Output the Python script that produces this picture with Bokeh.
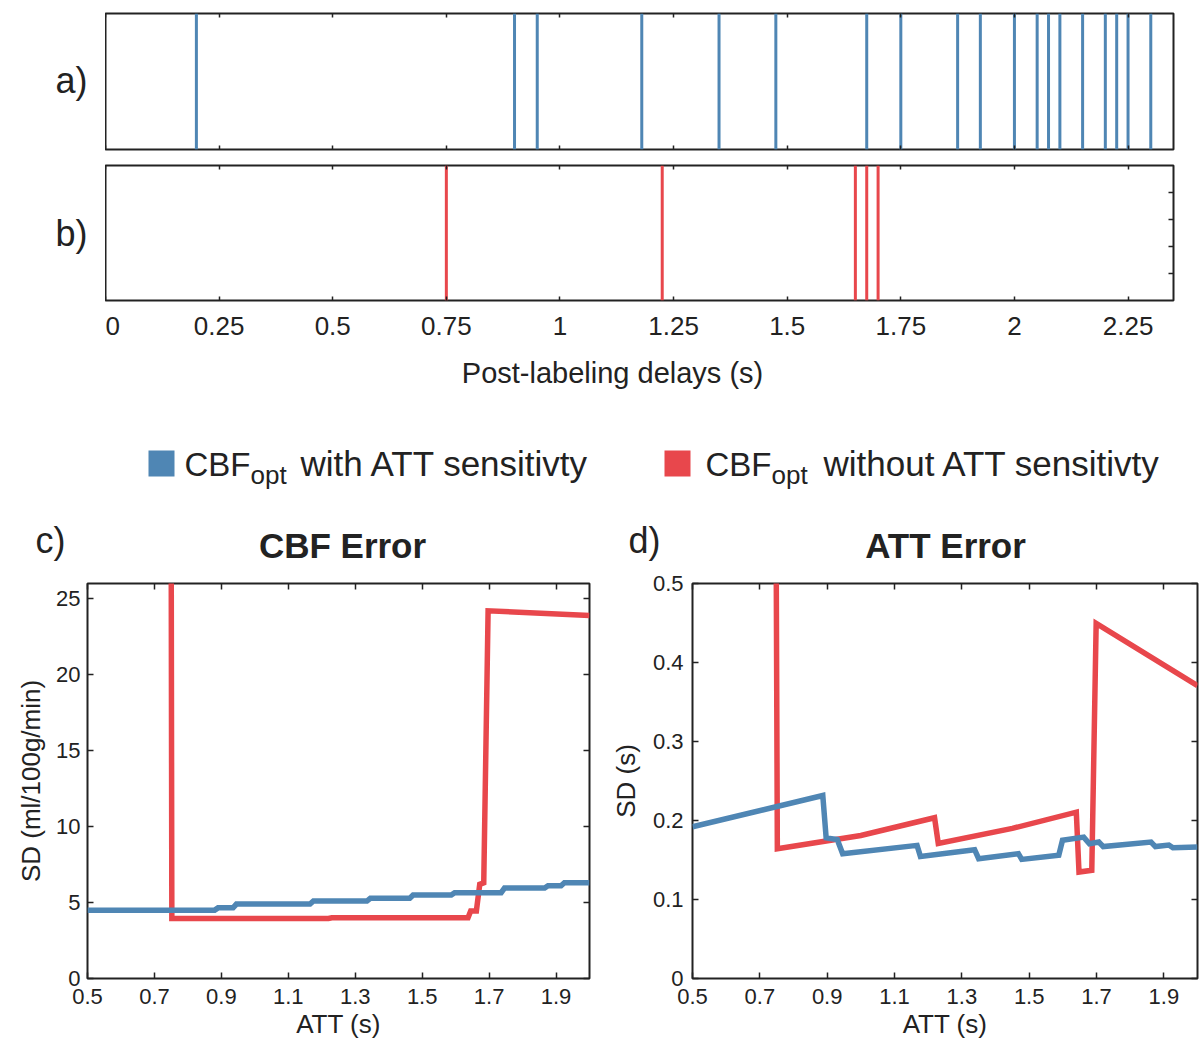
from bokeh.plotting import figure
from bokeh.models import Range1d, FixedTicker, LinearAxis
from bokeh.layouts import column, row
from bokeh.embed import file_html
from bokeh.resources import INLINE
from bokeh.core.properties import value

# ---------------- data ----------------
# post-labeling delays (s)
pld_with_att = [0.2, 0.9, 0.95, 1.18, 1.35, 1.475, 1.675, 1.75, 1.875, 1.925,
                2.0, 2.05, 2.075, 2.1, 2.15, 2.2, 2.225, 2.25, 2.3]
pld_without_att = [0.75, 1.225, 1.65, 1.675, 1.7]
pld_ticks = [0, 0.25, 0.5, 0.75, 1, 1.25, 1.5, 1.75, 2, 2.25]
pld_tick_labels = ["0", "0.25", "0.5", "0.75", "1", "1.25", "1.5", "1.75", "2", "2.25"]
pld_right_ticks = [0.2, 0.4, 0.6, 0.8]

att_ticks = [0.5, 0.7, 0.9, 1.1, 1.3, 1.5, 1.7, 1.9]
att_tick_labels = ["0.5", "0.7", "0.9", "1.1", "1.3", "1.5", "1.7", "1.9"]

# c) CBF error SD (ml/100g/min)
cbf_blue_att = [0.5, 0.88, 0.89, 0.935, 0.945, 1.165, 1.175, 1.335, 1.345, 1.463, 1.473,
                1.587, 1.597, 1.736, 1.746, 1.866, 1.876, 1.915, 1.925, 2.0]
cbf_blue_sd = [4.5, 4.5, 4.65, 4.65, 4.9, 4.9, 5.1, 5.1, 5.28, 5.28, 5.5,
               5.5, 5.65, 5.65, 5.95, 5.95, 6.1, 6.1, 6.3, 6.3]
cbf_red_att = [0.75, 0.752, 1.22, 1.23, 1.637, 1.645, 1.662, 1.672, 1.684, 1.697, 2.0]
cbf_red_sd = [30, 3.95, 3.95, 4.0, 4.0, 4.45, 4.45, 6.2, 6.3, 24.2, 23.9]
cbf_ticks = [0, 5, 10, 15, 20, 25]
cbf_tick_labels = ["0", "5", "10", "15", "20", "25"]

# d) ATT error SD (s)
att_blue_att = [0.5, 0.887, 0.897, 0.93, 0.946, 1.167, 1.177, 1.338, 1.35, 1.468, 1.478,
                1.588, 1.599, 1.662, 1.679, 1.707, 1.72, 1.862, 1.875, 1.915, 1.927, 2.0]
att_blue_sd = [0.192, 0.2317, 0.178, 0.176, 0.158, 0.1685, 0.1546, 0.163, 0.1516, 0.158, 0.1508,
               0.156, 0.175, 0.179, 0.1706, 0.1727, 0.167, 0.1727, 0.167, 0.169, 0.1655, 0.1664]
att_red_att = [0.748, 0.752, 1.0, 1.219, 1.23, 1.45, 1.64, 1.648, 1.686, 1.699, 2.0]
att_red_sd = [0.6, 0.1643, 0.181, 0.2035, 0.171, 0.19, 0.2106, 0.1348, 0.137, 0.4495, 0.3707]
sd_ticks = [0, 0.1, 0.2, 0.3, 0.4, 0.5]
sd_tick_labels = ["0", "0.1", "0.2", "0.3", "0.4", "0.5"]

legend_labels = ["with ATT sensitivty", "without ATT sensitivty"]

# ---------------- style ----------------
FONT = "Liberation Sans"
BLUE = "#4F86B4"
RED = "#E8474C"
INK = "#222222"


def canvas(w, h):
    p = figure(width=w, height=h, x_range=Range1d(0, w), y_range=Range1d(h, 0),
               output_backend="svg", toolbar_location=None,
               x_axis_location=None, y_axis_location=None, min_border=0,
               outline_line_color=None)
    p.grid.visible = False
    return p


def txt(p, x, y, s, size, align="left", bold=False):
    # y is the visual middle of the text line
    p.text(x=[x], y=[y], text=[s], text_font=value(FONT), text_font_size=size,
           text_color=INK, text_align=align, text_baseline="middle",
           text_font_style="bold" if bold else "normal")


def axis(p, side, ticks, labels=None, tick_len=5, font="22px", standoff=4):
    ax = LinearAxis(ticker=FixedTicker(ticks=ticks))
    ax.major_tick_in = tick_len
    ax.major_tick_out = 0
    ax.minor_tick_line_color = None
    ax.major_tick_line_color = INK
    ax.major_tick_line_width = 1.5
    ax.axis_line_color = None
    if labels is None:
        ax.major_label_overrides = {t: "" for t in ticks}
        ax.major_label_text_font_size = "1px"
        ax.major_label_standoff = 0
    else:
        ax.major_label_overrides = {t: l for t, l in zip(ticks, labels)}
        ax.major_label_text_font_size = font
        ax.major_label_text_font = FONT
        ax.major_label_text_color = INK
        ax.major_label_standoff = standoff
    p.add_layout(ax, side)
    return ax


def panel(w, h, xr, yr, bl, br, bt, bb):
    p = figure(width=w, height=h, x_range=Range1d(*xr), y_range=Range1d(*yr),
               output_backend="svg", toolbar_location=None,
               x_axis_location=None, y_axis_location=None,
               min_border_left=bl, min_border_right=br,
               min_border_top=bt, min_border_bottom=bb,
               outline_line_color=INK, outline_line_width=2)
    p.grid.visible = False
    return p


# ---------------- a) and b) ----------------
lab_ab = canvas(105, 350)
txt(lab_ab, 55, 80, "a)", "36px")
txt(lab_ab, 55, 233, "b)", "36px")

pa = panel(1095, 157, (0, 2.35), (0, 1), 0, 27, 13, 8)
axis(pa, "below", pld_ticks, tick_len=4)
axis(pa, "above", pld_ticks, tick_len=4)
pa.segment(x0=pld_with_att, y0=0, x1=pld_with_att, y1=1, line_color=BLUE, line_width=3)

pb = panel(1095, 193, (0, 2.35), (0, 1), 0, 27, 8, 50)
axis(pb, "below", pld_ticks, pld_tick_labels, tick_len=4, font="26px", standoff=16)
axis(pb, "above", pld_ticks, tick_len=4)
axis(pb, "right", pld_right_ticks, tick_len=5)
pb.segment(x0=pld_without_att, y0=0, x1=pld_without_att, y1=1, line_color=RED, line_width=3)

top = row(lab_ab, column(pa, pb))

# ---------------- axis label, legend, titles ----------------
hdr = canvas(1200, 217)
txt(hdr, 612, 22, "Post-labeling delays (s)", "29px", align="center")
hdr.scatter(x=[161, 677], y=[113, 113], marker="square", size=26,
            fill_color=[BLUE, RED], line_color=None)
txt(hdr, 184, 114, "CBF", "33px")
txt(hdr, 250, 124, "opt", "26px")
txt(hdr, 300, 113, legend_labels[0], "35px")
txt(hdr, 705, 114, "CBF", "33px")
txt(hdr, 771, 124, "opt", "26px")
txt(hdr, 823, 113, legend_labels[1], "35px")
txt(hdr, 35, 190, "c)", "36px")
txt(hdr, 342, 195, "CBF Error", "35px", align="center", bold=True)
txt(hdr, 628, 190, "d)", "36px")
txt(hdr, 945, 195, "ATT Error", "35px", align="center", bold=True)


def style_label(ax, text, standoff):
    ax.axis_label = text
    ax.axis_label_text_font = FONT
    ax.axis_label_text_font_size = "26px"
    ax.axis_label_text_font_style = "normal"
    ax.axis_label_text_color = INK
    ax.axis_label_standoff = standoff


# ---------------- c) ----------------
pc = panel(600, 477, (0.5, 2.0), (0, 26), 87, 11, 16, 63)
ax = axis(pc, "below", att_ticks, att_tick_labels, tick_len=6, standoff=10)
style_label(ax, "ATT (s)", 2)
axis(pc, "above", att_ticks, tick_len=6)
ay = axis(pc, "left", cbf_ticks, cbf_tick_labels, tick_len=6, standoff=7)
style_label(ay, "SD (ml/100g/min)", 7)
axis(pc, "right", cbf_ticks, tick_len=6)
pc.line(cbf_red_att, cbf_red_sd, line_color=RED, line_width=5.5, line_join="miter")
pc.line(cbf_blue_att, cbf_blue_sd, line_color=BLUE, line_width=5.5, line_join="miter")

# ---------------- d) ----------------
pdd = panel(600, 477, (0.5, 2.0), (0, 0.5), 92, 3, 15, 66)
ax = axis(pdd, "below", att_ticks, att_tick_labels, tick_len=6, standoff=10)
style_label(ax, "ATT (s)", 2)
axis(pdd, "above", att_ticks, tick_len=6)
ay = axis(pdd, "left", sd_ticks, sd_tick_labels, tick_len=6, standoff=9)
style_label(ay, "SD (s)", 9)
axis(pdd, "right", sd_ticks, tick_len=6)
pdd.line(att_red_att, att_red_sd, line_color=RED, line_width=5.5, line_join="miter")
pdd.line(att_blue_att, att_blue_sd, line_color=BLUE, line_width=5.5, line_join="miter")

layout = column(top, hdr, row(pc, pdd))

open("out.html", "w").write(file_html(layout, INLINE))
